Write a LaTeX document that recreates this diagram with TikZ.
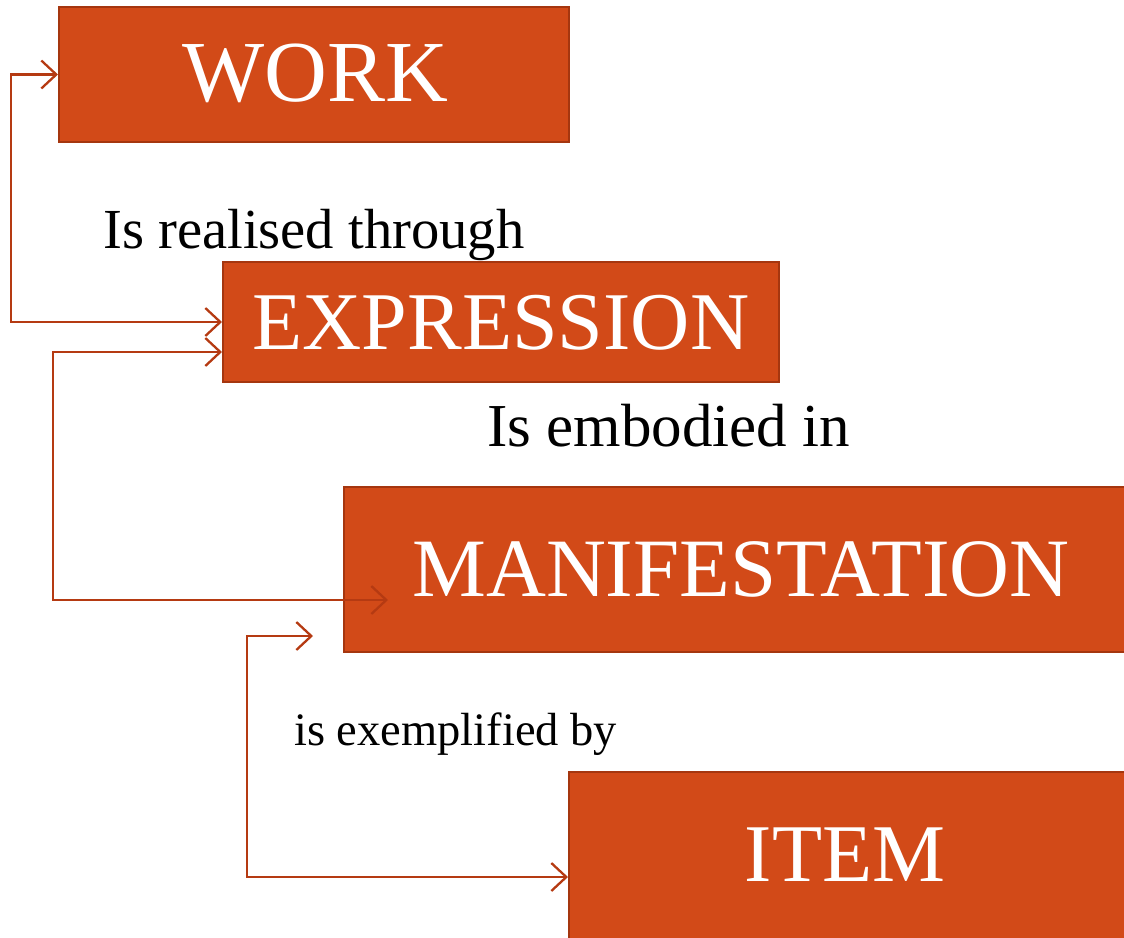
\documentclass[tikz,border=0pt]{standalone}
\usepackage{fontspec}
\setmainfont{Liberation Serif}
\usetikzlibrary{arrows.meta}
\definecolor{boxfill}{HTML}{D24A18}
\definecolor{boxedge}{HTML}{A5360F}
\definecolor{linecol}{HTML}{B53A12}
\begin{document}
\begin{tikzpicture}[x=1pt,y=-1pt,
  frbr/.style={draw=boxedge,line width=2pt,fill=boxfill,text=white,inner sep=0pt},
  boxtext/.style={text=white,inner sep=0pt,anchor=base},
  rel/.style={inner sep=0pt,anchor=base west,text=black},
  conn/.style={draw=linecol,line width=2.3pt,{Straight Barb[length=15pt,width=28pt,line width=2.3pt]}-{Straight Barb[length=15pt,width=28pt,line width=2.3pt]}}]
\useasboundingbox (0,0) rectangle (1124,937);
\node[frbr,minimum width=510pt,minimum height=135pt] (work) at (314,74.5) {};
\node[boxtext,font=\fontsize{87}{87}\selectfont] (workt) at (315,101) {WORK};
\node[frbr,minimum width=556pt,minimum height=120pt] (expr) at (501,322) {};
\node[boxtext,font=\fontsize{82}{82}\selectfont] (exprt) at (501,349) {EXPRESSION};
\node[frbr,minimum width=790pt,minimum height=165pt] (mani) at (739,569.5) {};
\node[boxtext,font=\fontsize{83}{83}\selectfont] (manit) at (741,596) {MANIFESTATION};
\node[frbr,minimum width=565pt,minimum height=170pt] (item) at (851.5,857) {};
\node[boxtext,font=\fontsize{82}{82}\selectfont] (itemt) at (845,881) {ITEM};
\node[rel,font=\fontsize{56.6}{56.6}\selectfont] (l1) at (103,248) {Is realised through};
\node[rel,font=\fontsize{61}{61}\selectfont] (l2) at (487,446) {Is embodied in};
\node[rel,font=\fontsize{46.5}{46.5}\selectfont] (l3) at (294,745) {is exemplified by};
\coordinate (m1) at (388,600);
\coordinate (m2) at (313,636);
\draw[conn] (work.west) -- (11,74.5) |- (expr.west |- 0,322);
\draw[conn] (expr.west |- 0,352) -- (53,352) |- (m1);
\draw[conn] (m2) -- (247,636) |- (item.west |- 0,877);
\end{tikzpicture}
\end{document}
